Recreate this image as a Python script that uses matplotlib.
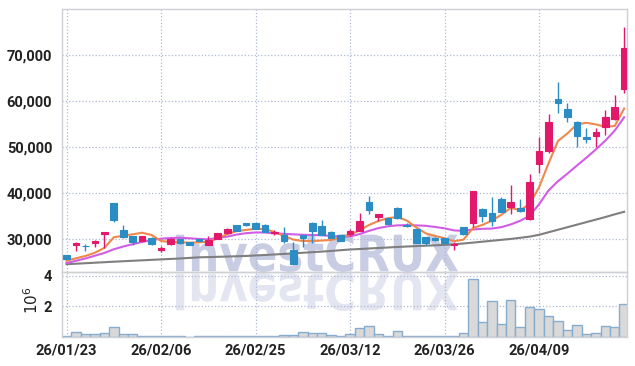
import matplotlib
matplotlib.use("Agg")
import matplotlib.pyplot as plt
import matplotlib.transforms as mtransforms
from matplotlib.textpath import TextPath
from matplotlib.patches import PathPatch
from matplotlib.font_manager import FontProperties

plt.rcParams["font.family"] = ["Liberation Sans Narrow", "Roboto", "DejaVu Sans"]

# daily candles, 26/01/23 .. 26/04/22
opens = [26450, 28550, 28500, 29000, 30950, 37800, 31900, 30600, 29550, 30100,
         27550, 28900, 29850, 29200, 29850, 28700, 30000, 31200, 32900, 33350,
         33450, 33050, 31250, 30900, 27550, 30800, 33450, 32750, 31550, 30700,
         30950, 31750, 37900, 34650, 34450, 36600, 33050, 32050, 30300, 30100,
         30150, 28650, 32450, 33450, 36550, 35650, 38600, 36950, 36650, 34300,
         46150, 49150, 60350, 58200, 55450, 52100, 52350, 54200, 56100, 62550]
closes = [25600, 29100, 28350, 29550, 31400, 34100, 30300, 29350, 30500, 28800,
          28050, 29900, 29000, 28700, 29550, 29700, 31150, 32100, 31750, 32900,
          32200, 31450, 31350, 29450, 24500, 30250, 31750, 30800, 30250, 29600,
          31750, 33850, 36250, 35350, 33200, 34450, 32750, 29150, 29150, 29800,
          29150, 28850, 30950, 40350, 34850, 33850, 35800, 38050, 36050, 42400,
          49050, 55300, 59550, 56550, 52350, 51750, 53200, 56450, 58600, 71450]
highs = [26500, 29200, 28850, 29650, 31500, 37850, 33000, 30650, 30550, 30300,
         28400, 30100, 29900, 29250, 29900, 30600, 31200, 32300, 33000, 33450,
         33500, 33100, 31850, 32600, 29350, 30850, 33550, 34050, 31700, 30800,
         32050, 35500, 39300, 35450, 34500, 36950, 33350, 32100, 30350, 30450,
         30200, 29350, 32550, 40400, 36700, 39000, 39000, 41650, 38550, 44050,
         52050, 57050, 64000, 59450, 55600, 54000, 54000, 58000, 61150, 75950]
lows = [25550, 27400, 27400, 28250, 27900, 33550, 30100, 28650, 29500, 28700,
        27200, 28700, 28900, 28650, 29500, 28600, 29950, 31100, 31700, 32800,
        32150, 31400, 30800, 29100, 24400, 28150, 29150, 30700, 30150, 29500,
        30650, 31600, 35350, 33900, 33100, 34300, 32450, 29050, 28650, 29550,
        29050, 27550, 30700, 32450, 33600, 32700, 35700, 35350, 35800, 34150,
        44350, 48700, 57250, 55450, 49850, 50750, 50000, 52550, 55800, 61600]

ma5 = [25200, 25750, 26250, 26950, 28000, 30300, 30650, 30950, 31300, 30800,
       29500, 29280, 29220, 29130, 29200, 29350, 30050, 31000, 31650, 31900,
       32170, 32100, 31450, 30600, 29800, 29500, 29500, 29600, 29720, 30250,
       30900, 31800, 32980, 33850, 34450, 34720, 33950, 32450, 31170, 30600,
       30100, 29450, 29800, 32300, 33000, 33900, 35200, 36700, 36200, 37550,
       41200, 46400, 51250, 52900, 54850, 55200, 54850, 54350, 54500, 58300]
ma10 = [24700, 25200, 25700, 26300, 26900, 27700, 28300, 28800, 29300, 29700,
        30000, 30150, 30200, 30100, 29950, 29850, 30200, 30450, 30900, 31200,
        31350, 31350, 31150, 31050, 30950, 30850, 30800, 30750, 30600, 30400,
        30500, 31000, 31700, 32300, 32700, 32900, 32950, 32900, 32800, 32550,
        32250, 31800, 31700, 32000, 32150, 32200, 32500, 33100, 33900, 35000,
        37500, 40500, 42500, 44150, 45900, 47600, 49400, 51300, 53500, 56400]
ma60 = [24450, 24560, 24670, 24780, 24890, 25000, 25100, 25200, 25300, 25400,
        25500, 25600, 25700, 25820, 25950, 26000, 26060, 26120, 26180, 26250,
        26350, 26460, 26570, 26690, 26810, 26940, 27070, 27200, 27330, 27500,
        27650, 27760, 27870, 27980, 28090, 28200, 28300, 28400, 28480, 28560,
        28660, 28780, 28960, 29150, 29350, 29550, 29750, 29950, 30200, 30450,
        30850, 31400, 31950, 32500, 33050, 33600, 34150, 34700, 35300, 35850]

volume = [0.09, 0.35, 0.17, 0.22, 0.28, 0.67, 0.22, 0.22, 0.09, 0.04,
          0.04, 0.04, 0.04, 0.02, 0.04, 0.04, 0.04, 0.09, 0.09, 0.04,
          0.04, 0.04, 0.04, 0.15, 0.15, 0.35, 0.28, 0.28, 0.11, 0.04,
          0.17, 0.61, 0.74, 0.22, 0.09, 0.41, 0.09, 0.09, 0.04, 0.04,
          0.04, 0.04, 0.28, 3.80, 0.99, 2.36, 0.87, 2.42, 0.67, 1.97,
          1.84, 1.39, 1.06, 0.48, 0.80, 0.22, 0.28, 0.74, 0.67, 2.16]

tick_pos = [0, 10, 20, 30, 40, 50]
tick_labels = ["26/01/23", "26/02/06", "26/02/25", "26/03/12", "26/03/26", "26/04/09"]

UP = "#e2196b"
DOWN = "#2b8dc4"
GRID = "#b0b9d8"
FRAME = "#cfcfd6"
TXT = "#222222"

fig = plt.figure(figsize=(6.35, 3.66), dpi=100)
W, H = 635, 366
ax = fig.add_axes([62 / W, 1 - 272 / H, 565 / W, 263 / H])
axv = fig.add_axes([62 / W, 1 - 337 / H, 565 / W, 65 / H], sharex=ax)
ax.set_facecolor("none")
axv.set_facecolor("none")

# watermark with reflection, behind everything
fp = FontProperties(family="DejaVu Sans", weight="bold")
tp = TextPath((0, 0), "InvestCRUX", size=100, prop=fp)
bb = tp.get_extents()
sx = (458 - 176) / bb.width
sy = (272 - 234) / bb.height
t_up = mtransforms.Affine2D().translate(-bb.x0, -bb.y0).scale(sx, sy).translate(176, H - 272)
t_dn = mtransforms.Affine2D().translate(-bb.x0, -bb.y0).scale(sx, -sy).translate(176, H - 273)
fig.add_artist(PathPatch(t_up.transform_path(tp), transform=mtransforms.IdentityTransform(),
                         facecolor="#c8cde4", edgecolor="none", zorder=-5))
fig.add_artist(PathPatch(t_dn.transform_path(tp), transform=mtransforms.IdentityTransform(),
                         facecolor="#e3e6f0", edgecolor="none", zorder=-5))

x = list(range(len(closes)))

# moving averages
ax.plot(x, ma60, color="#7f7f7f", lw=1.5, zorder=2)
ax.plot(x, ma10, color="#d15de6", lw=1.5, zorder=2)
ax.plot(x, ma5, color="#f0884d", lw=1.5, zorder=2)

# candles
for i in x:
    o, c = opens[i], closes[i]
    col = UP if c >= o else DOWN
    ax.vlines(i, lows[i], highs[i], color=col, lw=1, zorder=3)
    ax.bar(i, abs(c - o), bottom=min(o, c), width=0.7, color=col,
           edgecolor=col, linewidth=0.8, zorder=4)

ax.set_ylim(22760, 79940)
ax.set_xlim(-0.48, 59.3)
ax.set_yticks([30000, 40000, 50000, 60000, 70000])
ax.set_yticklabels(["30,000", "40,000", "50,000", "60,000", "70,000"])
ax.set_xticks(tick_pos)
ax.tick_params(axis="x", labelbottom=False, length=0)
ax.tick_params(axis="y", length=0, pad=7, labelsize=10.5, labelcolor=TXT)
ax.grid(True, linestyle=":", color=GRID, linewidth=0.9)

# volume
axv.bar(x, [v * 1e6 for v in volume], width=1.0, color="#d9d9d9",
        edgecolor="#86acd0", linewidth=1, zorder=2)
axv.set_ylim(0, 4.24e6)
axv.set_yticks([2e6, 4e6])
axv.set_yticklabels(["2", "4"])
axv.set_xticks(tick_pos)
axv.set_xticklabels(tick_labels)
axv.tick_params(length=0, labelsize=10.5, labelcolor=TXT)
axv.tick_params(axis="y", pad=7)
axv.tick_params(axis="x", pad=5)
axv.grid(True, linestyle=":", color=GRID, linewidth=0.9)
for lab in ax.get_yticklabels() + axv.get_yticklabels() + axv.get_xticklabels():
    lab.set_fontweight("bold")
fig.text(32 / W, 1 - 300 / H, r"$10^6$", rotation=90, ha="center", va="center",
         fontsize=11, color=TXT)

for a in (ax, axv):
    for s in a.spines.values():
        s.set_color(FRAME)
        s.set_linewidth(1)

fig.savefig("out.png", dpi=100)
